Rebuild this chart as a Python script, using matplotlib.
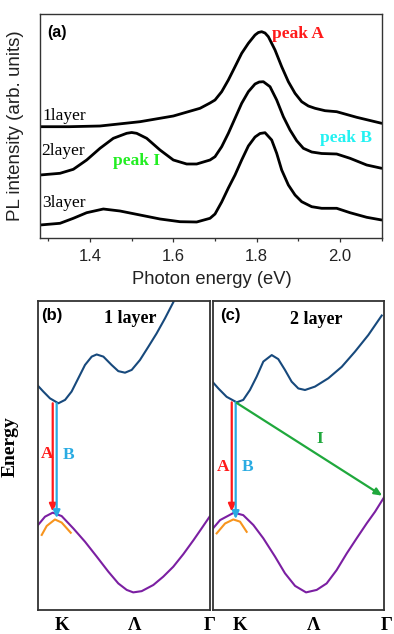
import matplotlib
matplotlib.use("Agg")
import matplotlib.pyplot as plt

# ---------------- (a) PL spectra (arb. units, offset) ----------------
e_1layer = [1.28, 1.35, 1.424, 1.52, 1.60, 1.664, 1.688, 1.700, 1.716, 1.732, 1.748,
            1.764, 1.780, 1.796, 1.804, 1.812, 1.820, 1.828, 1.844, 1.860, 1.876,
            1.892, 1.908, 1.924, 1.940, 1.964, 1.992, 2.04, 2.10]
pl_1layer = [111.3, 111.3, 112.0, 116.3, 122.0, 129.7, 135.0, 138.0, 146.3, 158.0, 171.3,
             184.7, 194.7, 203.0, 205.5, 206.3, 205.0, 201.3, 188.0, 171.3, 156.3,
             144.7, 136.3, 132.0, 129.7, 127.3, 126.3, 120.7, 114.7]

e_2layer = [1.28, 1.328, 1.36, 1.392, 1.424, 1.456, 1.488, 1.50, 1.512, 1.536, 1.568,
            1.60, 1.632, 1.656, 1.688, 1.700, 1.716, 1.732, 1.748, 1.764, 1.780, 1.796,
            1.806, 1.816, 1.832, 1.848, 1.864, 1.880, 1.896, 1.912, 1.932, 1.956,
            1.992, 2.024, 2.064, 2.10]
pl_2layer = [63.0, 64.7, 68.7, 78.0, 89.7, 99.7, 104.7, 105.5, 104.7, 99.7, 88.0,
             78.0, 74.0, 74.0, 78.0, 81.3, 91.3, 104.7, 119.7, 134.7, 146.3, 154.0,
             156.0, 156.3, 151.3, 138.0, 121.3, 108.0, 97.3, 89.7, 86.0, 84.5,
             84.0, 79.7, 73.0, 69.7]

e_3layer = [1.28, 1.328, 1.36, 1.392, 1.432, 1.472, 1.52, 1.568, 1.616, 1.656, 1.688,
            1.700, 1.716, 1.732, 1.748, 1.764, 1.780, 1.796, 1.808, 1.820, 1.836,
            1.848, 1.860, 1.876, 1.892, 1.908, 1.932, 1.956, 1.992, 2.024, 2.064, 2.10]
pl_3layer = [13.0, 14.7, 19.7, 25.3, 29.0, 27.0, 23.0, 19.0, 16.3, 16.0, 19.7,
             24.0, 36.0, 50.0, 63.0, 78.0, 92.0, 101.0, 104.5, 105.3, 98.0,
             84.7, 68.0, 53.0, 43.0, 36.3, 31.3, 29.7, 29.7, 25.3, 20.7, 18.0]

layer_labels = ["1layer", "2layer", "3layer"]
x_ticks = [1.4, 1.6, 1.8, 2.0]
x_tick_labels = ["1.4", "1.6", "1.8", "2.0"]

# ---------------- (b),(c) band schematics (normalised k, E) ----------------
k_cb_1 = [-0.006, 0.029, 0.068, 0.117, 0.156, 0.194, 0.233, 0.272, 0.311, 0.340, 0.379,
          0.427, 0.466, 0.505, 0.544, 0.592, 0.641, 0.689, 0.738, 0.790]
E_cb_1 = [0.728, 0.707, 0.685, 0.669, 0.680, 0.707, 0.750, 0.793, 0.820, 0.827, 0.820,
          0.793, 0.773, 0.768, 0.777, 0.809, 0.852, 0.895, 0.944, 1.000]
k_vb_1 = [-0.006, 0.039, 0.084, 0.136, 0.204, 0.272, 0.340, 0.408, 0.466, 0.515, 0.553,
          0.602, 0.670, 0.728, 0.786, 0.845, 0.905, 0.951, 1.000]
E_vb_1 = [0.272, 0.302, 0.315, 0.304, 0.264, 0.221, 0.173, 0.124, 0.086, 0.065, 0.057,
          0.061, 0.081, 0.108, 0.140, 0.181, 0.227, 0.264, 0.304]
k_so_1 = [0.020, 0.049, 0.097, 0.136, 0.189]
E_so_1 = [0.243, 0.272, 0.293, 0.283, 0.250]

k_cb_2 = [-0.010, 0.033, 0.081, 0.140, 0.178, 0.217, 0.256, 0.295, 0.344, 0.382, 0.421,
          0.460, 0.499, 0.538, 0.596, 0.674, 0.752, 0.829, 0.907, 0.985]
E_cb_2 = [0.744, 0.717, 0.690, 0.672, 0.680, 0.712, 0.755, 0.804, 0.825, 0.812, 0.777,
          0.739, 0.717, 0.712, 0.723, 0.750, 0.787, 0.836, 0.890, 0.953]
k_vb_2 = [-0.006, 0.043, 0.124, 0.178, 0.237, 0.295, 0.363, 0.421, 0.480, 0.544, 0.606,
          0.664, 0.722, 0.781, 0.839, 0.897, 0.946, 1.000]
E_vb_2 = [0.259, 0.291, 0.315, 0.307, 0.275, 0.232, 0.173, 0.119, 0.078, 0.057, 0.065,
          0.086, 0.129, 0.183, 0.232, 0.280, 0.318, 0.366]
k_so_2 = [0.023, 0.072, 0.120, 0.159, 0.198]
E_so_2 = [0.248, 0.280, 0.293, 0.286, 0.253]

# transitions: (k_start, E_start, k_end, E_end)
trans_A_1 = (0.084, 0.669, 0.084, 0.318)
trans_B_1 = (0.107, 0.669, 0.107, 0.297)
trans_A_2 = (0.111, 0.672, 0.111, 0.318)
trans_B_2 = (0.134, 0.672, 0.134, 0.294)
trans_I_2 = (0.140, 0.670, 0.988, 0.370)

kpt_labels = ["K", "Λ", "Γ"]
kpt_pos_1 = [0.138, 0.563, 1.0]
kpt_pos_2 = [0.159, 0.590, 1.015]

# ---------------- figure ----------------
W, H = 394, 634
fig = plt.figure(figsize=(W / 100, H / 100), dpi=100)

SANS = ["Liberation Sans", "DejaVu Sans"]
SERIF = ["Liberation Serif", "DejaVu Serif"]


def rect(l, t, r, b):
    return [l / W, (H - b) / H, (r - l) / W, (b - t) / H]


# (a)
ax = fig.add_axes(rect(40, 14.3, 381.7, 238))
for e, p in [(e_1layer, pl_1layer), (e_2layer, pl_2layer), (e_3layer, pl_3layer)]:
    ax.plot(e, p, color="black", lw=2.0, solid_joinstyle="round",
            solid_capstyle="round")
ax.set_xlim(1.28, 2.10)
ax.set_ylim(0, 223.7)
ax.set_yticks([])
ax.set_xticks(x_ticks)
ax.set_xticklabels(x_tick_labels, family=SANS, fontsize=12, color="#222222")
ax.set_xticks([1.3, 1.5, 1.7, 1.9, 2.1], minor=True)
ax.tick_params(axis="x", which="major", direction="out", length=3, width=0.9,
               pad=5, colors="#333333", labelcolor="#222222")
ax.tick_params(axis="x", which="minor", direction="out", length=2.5, width=0.9,
               colors="#333333")
for s in ax.spines.values():
    s.set_linewidth(1.0)
    s.set_color("#333333")

ax.text(1.321, 205, "(a)", family=SANS, weight="bold", fontsize=11.5,
        ha="center", va="center")
ax.text(1.287, 117.5, layer_labels[0], family=SERIF, fontsize=12.5, ha="left",
        va="baseline")
ax.text(1.284, 83, layer_labels[1], family=SERIF, fontsize=12.5, ha="left",
        va="baseline")
ax.text(1.286, 30.7, layer_labels[2], family=SERIF, fontsize=12.5, ha="left",
        va="baseline")
ax.text(1.836, 200.3, "peak A", family=SERIF, weight="bold", fontsize=12.5,
        color="#ff1a1a", ha="left", va="baseline")
ax.text(1.952, 96.3, "peak B", family=SERIF, weight="bold", fontsize=12.5,
        color="#22f2f2", ha="left", va="baseline")
ax.text(1.454, 73, "peak I", family=SERIF, weight="bold", fontsize=12.5,
        color="#22ee22", ha="left", va="baseline")

fig.text(16 / W, 1 - 126 / H, "PL intensity (arb. units)", family=SANS,
         fontsize=13.5, rotation=90, ha="center", va="center", color="#222222")
fig.text(211.5 / W, 1 - 280 / H, "Photon energy (eV)", family=SANS,
         fontsize=13.2, ha="center", va="center", color="#222222")

# (b), (c)
CB = "#17497c"
VB = "#7b1fa2"
SO = "#f7941d"
RED = "#ff1a1a"
BLUE = "#29abe2"
GREEN = "#1fa83c"


def arrow(a, tr, color):
    a.annotate("", xy=(tr[2], tr[3]), xytext=(tr[0], tr[1]),
               arrowprops=dict(arrowstyle="-|>,head_length=0.45,head_width=0.2",
                               color=color, lw=1.6, shrinkA=0, shrinkB=0))


panels = [
    (rect(38.3, 301, 210, 610), k_cb_1, E_cb_1, k_vb_1, E_vb_1, k_so_1, E_so_1,
     [trans_A_1, trans_B_1], kpt_pos_1, "(b)", "1 layer", (0.078, 0.952), (0.534, 0.942),
     (0.049, 0.505), (0.175, 0.502)),
    (rect(212.7, 301, 384.3, 610), k_cb_2, E_cb_2, k_vb_2, E_vb_2, k_so_2, E_so_2,
     [trans_A_2, trans_B_2], kpt_pos_2, "(c)", "2 layer", (0.101, 0.952), (0.606, 0.939),
     (0.062, 0.464), (0.204, 0.464)),
]

axes_b = []
for (r, kc, ec, kv, ev, ks, es, trs, kpos, tag, title, tagpos, titlepos,
     apos, bpos) in panels:
    a = fig.add_axes(r)
    axes_b.append(a)
    a.set_xlim(0, 1)
    a.set_ylim(0, 1)
    a.set_xticks([])
    a.set_yticks([])
    for s in a.spines.values():
        s.set_linewidth(1.3)
        s.set_color("#333333")
    a.plot(kc, ec, color=CB, lw=1.5, solid_joinstyle="round", clip_on=True)
    a.plot(kv, ev, color=VB, lw=1.5, solid_joinstyle="round")
    a.plot(ks, es, color=SO, lw=1.5, solid_joinstyle="round")
    arrow(a, trs[0], RED)
    arrow(a, trs[1], BLUE)
    a.text(*tagpos, tag, transform=a.transAxes, family=SANS, weight="bold",
           fontsize=12, ha="center", va="center")
    a.text(*titlepos, title, transform=a.transAxes, family=SERIF, weight="bold",
           fontsize=13, ha="center", va="center")
    a.text(*apos, "A", transform=a.transAxes, family=SERIF, weight="bold",
           fontsize=12.5, color=RED, ha="center", va="center")
    a.text(*bpos, "B", transform=a.transAxes, family=SERIF, weight="bold",
           fontsize=12.5, color=BLUE, ha="center", va="center")
    for lab, kp in zip(kpt_labels, kpos):
        a.text(kp, -7 / 309, lab, transform=a.transAxes, family=SERIF,
               weight="bold", fontsize=13.5, ha="center", va="top", clip_on=False)

arrow(axes_b[1], trans_I_2, GREEN)
axes_b[1].text(0.625, 0.553, "I", transform=axes_b[1].transAxes, family=SERIF,
               weight="bold", fontsize=12.5, color=GREEN, ha="center", va="center")

fig.text(10 / W, 1 - 447 / H, "Energy", family=SERIF, weight="bold", fontsize=14,
         rotation=90, ha="center", va="center")

fig.savefig("out.png", dpi=100)
